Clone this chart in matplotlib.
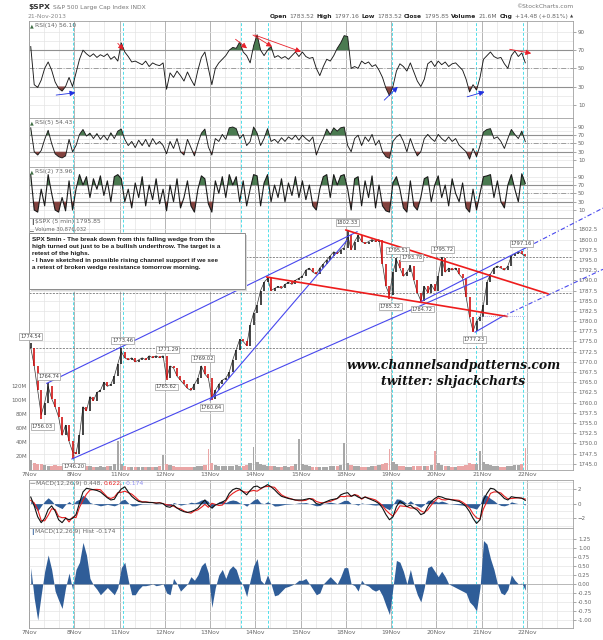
import numpy as np
import matplotlib
matplotlib.use("Agg")
import matplotlib.pyplot as plt
from matplotlib.patches import Rectangle

plt.rcParams['font.family'] = ['DejaVu Sans']

# ---------------- data (30-minute steps, 13 per session) ----------------
days = ['7Nov', '8Nov', '11Nov', '12Nov', '13Nov', '14Nov', '15Nov',
        '18Nov', '19Nov', '20Nov', '21Nov', '22Nov']
PER_DAY = 13

close = [
    1773.5, 1769.0, 1763.0, 1757.0, 1760.0, 1764.0, 1761.0, 1759.0, 1756.5, 1752.0, 1754.5, 1750.5, 1748.0,
    1747.5, 1752.0, 1759.0, 1758.0, 1761.5, 1760.5, 1762.5, 1763.0, 1765.0, 1764.0, 1764.5, 1766.5, 1769.5,
    1772.5, 1771.0, 1770.5, 1771.0, 1770.0, 1770.5, 1771.0, 1770.5, 1771.5, 1771.0, 1771.5, 1771.0, 1771.5,
    1766.0, 1769.0, 1768.5, 1766.5, 1765.5, 1764.5, 1763.5, 1763.0, 1764.5, 1766.0, 1769.0, 1767.0, 1766.0,
    1761.0, 1763.0, 1764.5, 1765.5, 1766.0, 1767.5, 1770.5, 1773.0, 1775.5, 1775.0, 1774.0, 1779.0, 1782.0,
    1784.0, 1787.5, 1789.5, 1790.5, 1787.5, 1788.0, 1788.5, 1788.0, 1789.0, 1789.5, 1789.0, 1790.0, 1790.5,
    1791.0, 1792.5, 1793.0, 1792.0, 1791.5, 1793.0, 1794.0, 1795.0, 1796.0, 1797.0, 1796.5, 1797.5, 1798.0,
    1801.0, 1797.5, 1799.5, 1801.0, 1799.5, 1799.0, 1799.5, 1800.0, 1799.5, 1800.0, 1794.0, 1788.5, 1786.5,
    1792.0, 1795.0, 1793.0, 1791.0, 1792.0, 1793.5, 1790.0, 1787.0, 1785.0, 1788.5, 1787.0, 1789.0, 1787.5,
    1791.0, 1795.5, 1792.0, 1793.0, 1792.5, 1793.0, 1791.5, 1790.5, 1786.0, 1781.0, 1777.5, 1780.0, 1781.0,
    1784.0, 1789.5, 1791.5, 1793.0, 1793.5, 1793.0, 1792.5, 1793.5, 1796.0, 1796.5, 1797.0, 1796.5, 1795.85,
]

volume_m = [
    14, 10, 9, 8, 7, 6, 6, 7, 6, 6, 7, 8, 10,
    10, 8, 7, 6, 6, 5, 5, 6, 5, 6, 6, 8, 42,
    9, 6, 5, 4, 4, 4, 4, 4, 4, 4, 5, 6, 22,
    9, 7, 6, 5, 5, 5, 5, 5, 5, 6, 6, 7, 30,
    10, 7, 6, 6, 6, 6, 6, 7, 6, 6, 7, 10, 33,
    12, 9, 7, 6, 6, 6, 5, 5, 6, 5, 6, 8, 45,
    9, 7, 6, 5, 5, 5, 5, 5, 6, 6, 6, 7, 39,
    10, 7, 6, 6, 5, 5, 5, 6, 6, 7, 9, 10, 30,
    12, 8, 6, 6, 5, 5, 6, 6, 6, 6, 6, 7, 27,
    10, 7, 6, 6, 5, 5, 6, 6, 7, 10, 9, 8, 27,
    11, 8, 7, 6, 6, 5, 5, 6, 6, 7, 7, 9, 32,
]

rsi14 = [
    74, 32, 29, 37, 50, 57, 48, 35, 28, 25, 30, 40, 30,
    45, 60, 70, 66, 63, 66, 62, 65, 63, 66, 60, 63, 58,
    78, 68, 63, 57, 58, 56, 54, 58, 52, 56, 54, 53, 56,
    27, 45, 40, 47, 42, 36, 46, 38, 31, 48, 62, 68, 50,
    32, 50, 56, 60, 64, 70, 73, 72, 79, 68, 64, 56, 75,
    87, 70, 64, 70, 74, 62, 64, 61, 63, 60, 64, 68, 63,
    68, 63, 61, 62, 50, 42, 52, 60, 58, 64, 72, 78, 86,
    85, 50, 52, 50, 58, 55, 57, 52, 54, 48, 40, 28, 20,
    30, 47, 55, 52, 47, 56, 46, 36, 30, 38, 55, 58, 52,
    58, 54, 57, 52, 55, 56, 52, 48, 38, 24, 32, 26, 40,
    60, 64, 68, 63, 61, 62, 55, 50, 64, 69, 63, 67, 56.1,
]

rsi5 = [
    88, 30, 22, 33, 60, 82, 50, 25, 18, 15, 20, 60, 30,
    45, 72, 84, 68, 75, 62, 74, 60, 70, 58, 76, 62, 80,
    85, 60, 45, 55, 40, 58, 45, 60, 42, 62, 48, 55, 45,
    25, 55, 38, 62, 30, 22, 60, 40, 20, 50, 75, 85, 42,
    22, 62, 55, 72, 60, 88, 90, 86, 62, 72, 45, 55, 90,
    75, 45, 62, 86, 55, 60, 52, 64, 55, 66, 60, 70, 58,
    70, 62, 55, 66, 22, 45, 62, 85, 72, 88, 80, 88, 90,
    45, 30, 62, 70, 45, 66, 55, 72, 46, 58, 30, 18, 14,
    55, 66, 72, 55, 30, 62, 38, 20, 30, 62, 72, 62, 55,
    72, 62, 55, 66, 55, 62, 46, 38, 30, 12, 38, 18, 45,
    78, 84, 86, 62, 66, 55, 38, 62, 84, 72, 62, 80, 54.43,
]

rsi2 = [
    95, 10, 5, 60, 20, 95, 50, 10, 5, 40, 8, 80, 10,
    60, 95, 70, 90, 40, 85, 60, 92, 45, 80, 30, 90, 95,
    85, 30, 60, 15, 75, 40, 90, 20, 70, 35, 85, 25, 60,
    8, 70, 30, 85, 15, 40, 80, 20, 5, 60, 92, 85, 25,
    5, 80, 50, 90, 40, 95, 70, 90, 30, 80, 20, 60, 95,
    92, 20, 75, 95, 30, 70, 40, 85, 30, 75, 45, 90, 40,
    80, 35, 70, 20, 10, 60, 90, 95, 40, 95, 70, 92, 95,
    60, 10, 85, 90, 20, 80, 40, 92, 15, 70, 20, 8, 5,
    75, 90, 60, 15, 5, 80, 20, 10, 40, 85, 90, 30, 70,
    92, 40, 70, 20, 85, 50, 30, 75, 15, 5, 60, 10, 50,
    90, 92, 95, 40, 80, 30, 15, 70, 95, 60, 30, 97, 73.96,
]

macd = [
    0.9, -0.3, -1.8, -2.6, -2.0, -0.8, -0.3, -1.0, -2.2, -2.6, -2.0, -2.2, -2.0,
    -1.5, 0.1, 1.6, 2.1, 2.0, 1.9, 1.8, 1.6, 1.2, 0.8, 0.5, 0.6, 1.4,
    2.0, 2.3, 1.6, 1.0, 0.6, 0.3, 0.2, 0.2, 0.15, 0.15, 0.05, 0.1, 0.0,
    -0.4, -0.5, -0.2, -0.6, -0.9, -1.1, -1.2, -1.1, -0.9, -0.6, 0.0, 0.5, -0.2,
    -0.6, -0.2, 0.0, 0.2, 0.5, 1.4, 1.9, 2.1, 2.0, 1.6, 1.2, 1.8, 2.3,
    2.4, 2.1, 2.3, 2.6, 2.3, 1.9, 1.4, 1.0, 0.85, 0.7, 0.6, 0.5, 0.5,
    0.5, 0.6, 0.7, 0.5, 0.0, -0.1, 0.1, 0.3, 0.5, 0.6, 0.7, 1.2, 1.4,
    1.5, 1.0, 1.2, 0.9, 0.7, 0.9, 0.7, 0.5, 0.3, 0.0, -0.6, -1.5, -2.2,
    -1.8, -0.4, 0.3, 0.0, -0.4, -0.2, -0.6, -0.9, -1.5, -1.3, -0.4, 0.3, 0.7,
    1.0, 0.9, 0.7, 0.6, 0.5, 0.4, 0.3, 0.0, -0.4, -1.1, -2.0, -2.7, -2.2,
    0.5, 1.4, 2.1, 2.0, 1.6, 1.2, 0.7, 0.5, 0.95, 0.85, 0.8, 0.75, 0.448,
]

macd_hist = [
    0.45, -0.4, -1.0, -0.3, 0.35, 0.8, 0.4, -0.2, -0.45, -0.68, -0.1, 0.3, -0.15,
    0.4, 0.6, 1.15, 0.8, 0.15, -0.03, -0.15, -0.3, -0.2, -0.1, -0.2, -0.3, -0.1,
    0.45, 0.6, 0.1, -0.3, -0.3, -0.15, -0.05, -0.05, -0.03, 0.0, -0.05, -0.03, 0.0,
    -0.25, -0.3, 0.15, 0.0, -0.2, -0.1, 0.0, 0.2, 0.1, 0.25, 0.5, 0.6, 0.3,
    -0.65, -0.1, 0.25, 0.4, 0.15, 0.4, 0.5, 0.4, 0.1, -0.05, -0.35, 0.1, 0.5,
    0.7, 0.1, 0.0, 0.25, 0.0, -0.33, -0.3, -0.2, -0.1, -0.07, -0.03, 0.02, 0.1,
    0.1, 0.15, 0.0, -0.15, -0.3, -0.25, 0.0, 0.1, 0.2, 0.1, 0.0, 0.2, 0.45,
    0.45, 0.0, -0.05, -0.2, 0.1, -0.02, -0.06, -0.15, -0.2, -0.15, -0.33, -0.6, -0.85,
    -0.1, 0.65, 0.6, 0.35, 0.0, 0.4, 0.0, -0.3, -0.5, -0.1, 0.45, 0.5, 0.35,
    0.2, 0.35, 0.2, 0.0, -0.05, -0.1, -0.15, -0.2, -0.25, -0.5, -0.6, -0.75, -0.1,
    1.2, 1.1, 0.7, 0.4, 0.0, -0.25, -0.3, -0.15, 0.25, 0.1, 0.0, 0.02, -0.174,
]

# price annotations: (step position, value, +1 above / -1 below)
price_labels = [
    (0.0, 1774.54, 1), (5.1, 1764.74, 1), (3.3, 1756.03, -1), (12.3, 1746.20, -1),
    (26.4, 1773.46, 1), (39.3, 1771.29, 1), (38.9, 1765.62, -1), (49.4, 1769.02, 1),
    (51.8, 1760.64, -1), (90.9, 1802.33, 1), (105.3, 1795.51, 1), (109.4, 1793.78, 1),
    (118.3, 1795.72, 1), (103.2, 1785.32, -1), (112.4, 1784.72, -1), (127.4, 1777.23, -1),
    (140.9, 1797.16, 1),
]
h_levels = [1795.6, 1786.9, 1773.5]
blue_solid = [((5.1, 1764.74), (94.2, 1801.9)),
              ((12.3, 1746.2), (132.5, 1791.3)),
              ((52.0, 1760.64), (91.3, 1799.8)),
              ((112.3, 1784.66), (142.5, 1797.9)),
              ((128.1, 1777.3), (135.6, 1781.0))]
blue_dashed = [((142.5, 1797.9), (164.8, 1807.7)),
               ((135.6, 1781.0), (164.8, 1792.7))]
red_lines = [((91.0, 1802.33), (149.0, 1786.7)),
             ((68.3, 1790.8), (137.2, 1781.15))]
dotted_level = ((129.0, 1781.15), (142.5, 1781.15))
rsi_red_arrows = [((25.5, 77.5), (27.2, 70.2)), ((59.3, 82.0), (62.6, 72.0)),
                  ((64.3, 86.7), (69.8, 73.8)), ((64.8, 86.7), (78.1, 68.3)),
                  ((138.0, 71.0), (144.2, 66.5))]
rsi_blue_arrows = [((7.8, 20.6), (13.3, 23.2)), ((102.0, 15.0), (105.9, 29.7)),
                   ((125.8, 18.7), (130.8, 24.2))]
marker_lines = [12.6, 27.0, 60.8, 68.7, 104.3, 128.4, 141.7]

# ---------------- layout ----------------
W, H = 603, 640
fig = plt.figure(figsize=(W / 100, H / 100), dpi=100)
LEFT, RIGHT = 29, 573
XMIN, XMAX = 0, 156.2
n = len(close)
x = np.arange(n) + 0.5
day_pos = np.arange(len(days)) * PER_DAY
GRAY_T = '#666666'
FS = 4.3
renderer = fig.canvas.get_renderer()


def ax_at(top, bottom, z=1):
    a = fig.add_axes([LEFT / W, 1 - bottom / H, (RIGHT - LEFT) / W, (bottom - top) / H], zorder=z)
    a.set_xlim(XMIN, XMAX)
    for s in a.spines.values():
        s.set_color('#a0a0a0')
        s.set_linewidth(0.6)
    a.yaxis.tick_right()
    a.tick_params(axis='y', labelsize=4, colors=GRAY_T, length=2, width=0.4, pad=1.5)
    a.tick_params(axis='x', length=0, labelbottom=False)
    a.set_xticks([])
    return a


def vgrid(a):
    for d in day_pos:
        for k in (1, 2):
            a.axvline(d + k * PER_DAY / 3, color='#e4e4e4', lw=0.5, zorder=0)
        a.axvline(d, color='#b4b4b4', lw=0.7, zorder=0)
    for m in marker_lines:
        a.axvline(m, color='#4fdfea', lw=0.7, ls=(0, (3, 2)), zorder=0.5)


def ftext(xp, yp, s, **kw):
    kw.setdefault('va', 'center')
    return fig.text(xp / W, 1 - yp / H, s, **kw)


def seq_text(x0, yp, pieces, gap=2.0, right=None):
    arts = [ftext(0, yp, s, ha='left', **kw) for s, kw in pieces]
    widths = [t.get_window_extent(renderer=renderer).width for t in arts]
    total = sum(widths) + gap * (len(arts) - 1)
    xs = (right - total) if right is not None else x0
    for t, wdt in zip(arts, widths):
        t.set_x(xs / W)
        xs += wdt + gap
    return arts


def rsi_panel(top, bottom, vals, ylim, name, lw=0.65):
    a = ax_at(top, bottom)
    a.set_ylim(*ylim)
    vgrid(a)
    for lv in range(10, 100, 10):
        a.axhline(lv, color='#e4e4e4', lw=0.5, zorder=0)
    a.axhline(70, color='#909090', lw=0.8, zorder=0.6)
    a.axhline(30, color='#909090', lw=0.8, zorder=0.6)
    a.axhline(50, color='#909090', lw=0.6, ls=(0, (6, 2, 1, 2)), zorder=0.6)
    v = np.array(vals, dtype=float)
    a.fill_between(x, v, 70, where=v > 70, interpolate=True, color='#4a7a50', lw=0, zorder=1)
    a.fill_between(x, v, 30, where=v < 30, interpolate=True, color='#84433f', lw=0, zorder=1)
    a.plot(x, v, color='#1a1a1a', lw=lw, zorder=2)
    a.set_yticks([10, 30, 50, 70, 90])
    ftext(30, top + 4.5, '\u25b2', fontsize=3.5, color='#3f6e44')
    ftext(35, top + 4.5, name, fontsize=FS, color=GRAY_T)
    return a


# RSI panels
ax14 = rsi_panel(21, 118.3, rsi14, (-4.97, 102.1), 'RSI(14) 56.10')
ax5 = rsi_panel(118.3, 167, rsi5, (-7.0, 111.1), 'RSI(5) 54.43')
ax2 = rsi_panel(167, 218.3, rsi2, (-9.9, 113.3), 'RSI(2) 73.96', lw=0.8)

for (s, e) in rsi_red_arrows:
    ax14.annotate('', xy=e, xytext=s, arrowprops=dict(arrowstyle='-|>', color='#e8202a', lw=0.6,
                                                         mutation_scale=8, shrinkA=0, shrinkB=0))
for (s, e) in rsi_blue_arrows:
    ax14.annotate('', xy=e, xytext=s, arrowprops=dict(arrowstyle='-|>', color='#2030e0', lw=0.6,
                                                         mutation_scale=8, shrinkA=0, shrinkB=0))

# price + volume panel
axv = ax_at(218.3, 470, z=1)
axv.set_ylim(0, 360.7)
vgrid(axv)
axp = ax_at(218.3, 470, z=2)
axp.patch.set_alpha(0)
axp.set_ylim(1743.5, 1805.2)
pt = np.arange(1745.0, 1803.0, 2.5)
axp.set_yticks(pt)
axp.set_yticklabels([f'{t:.1f}' for t in pt])
for t in pt:
    axv.axhline((t - 1743.5) / (1805.2 - 1743.5) * 360.7, color='#e4e4e4', lw=0.5, zorder=0)

opens = [close[0]] + close[:-1]
up = np.array(close) >= np.array(opens)
vol = np.array(volume_m, dtype=float)
vcol = np.where(up, '#a8a8a8', '#eaa6a6')
vwidth = np.where(vol > 15, 0.45, 0.95)
axv.bar(x, vol, width=vwidth, color=vcol, lw=0, zorder=1)
axv.yaxis.tick_left()
axv.set_yticks([20, 40, 60, 80, 100, 120])
axv.set_yticklabels(['20M', '40M', '60M', '80M', '100M', '120M'])
axv.tick_params(axis='y', labelsize=4, colors=GRAY_T, length=0, pad=1.5)
for s in axv.spines.values():
    s.set_visible(False)

hi = np.maximum(opens, close).astype(float)
lo = np.minimum(opens, close).astype(float)
for (p, v, side) in price_labels:
    k = int(round(p))
    if side > 0:
        hi[k] = max(hi[k], v)
    else:
        lo[k] = min(lo[k], v)
ccol = np.where(up, '#111111', '#d00000')
axp.plot(x, close, color='#333333', lw=0.5, zorder=3)
axp.vlines(x, lo, hi, colors=ccol, lw=1.1, zorder=3)

for lv in h_levels:
    axp.axhline(lv, color='#777777', lw=0.6, ls=(0, (2.5, 1.5)), zorder=2)
for (s, e) in blue_solid:
    axp.plot([s[0], e[0]], [s[1], e[1]], color='#4747ee', lw=0.8, zorder=4)
for (s, e) in blue_dashed:
    axp.plot([s[0], e[0]], [s[1], e[1]], color='#4747ee', lw=0.8, ls=(0, (4, 2, 1, 2)),
             zorder=4, clip_on=False)
for (s, e) in red_lines:
    axp.plot([s[0], e[0]], [s[1], e[1]], color='#ee1c1c', lw=1.2, zorder=4)
axp.plot([dotted_level[0][0], dotted_level[1][0]], [dotted_level[0][1], dotted_level[1][1]],
         color='#9a9ad8', lw=0.6, ls=(0, (1, 1.5)), zorder=4)

for (p, v, side) in price_labels:
    axp.annotate(f'{v:.2f}', xy=(p + 0.5, v), xytext=(0, 5.2 * side), textcoords='offset points',
                 ha='center', va='center', fontsize=3.7, color='#444444', zorder=6,
                 annotation_clip=False,
                 bbox=dict(boxstyle='square,pad=0.18', fc='white', ec='#9a9a9a', lw=0.5))

axp.set_xticks(day_pos)
axp.set_xticklabels(days)
axp.tick_params(axis='x', labelbottom=True, labelsize=FS, colors=GRAY_T, length=0, pad=1.5)

ftext(30, 222, '\u2759', fontsize=4, color='#333333')
ftext(35, 222, '$SPX (5 min) 1795.85', fontsize=FS, color=GRAY_T)
ftext(30, 229.5, '\u2581', fontsize=3.5, color='#555555')
ftext(35, 229.5, 'Volume 30,876,032', fontsize=3.8, color=GRAY_T)

# comment box
fig.patches.append(Rectangle((30.5 / W, 1 - 290.5 / H), (245 - 29) / W, (289 - 233) / H,
                             transform=fig.transFigure, fc='#d8d8d8', ec='none', zorder=9))
fig.patches.append(Rectangle((29 / W, 1 - 289 / H), (245 - 29) / W, (289 - 233) / H,
                             transform=fig.transFigure, fc='white', ec='#8c8c8c', lw=0.7,
                             zorder=10))
note = ("SPX 5min - The break down from this falling wedge from the\n"
        "high turned out just to be a bullish underthrow. The target is a\n"
        "retest of the highs.\n"
        "- I have sketched in possible rising channel support if we see\n"
        "a retest of broken wedge resistance tomorrow morning.")
ftext(31.5, 236.5, note, va='top', ha='left', fontsize=4.6, fontweight='bold',
      family='Liberation Sans', color='#1a1a1a', linespacing=1.55, zorder=11)

# watermark
ftext(454, 366, 'www.channelsandpatterns.com', ha='center', fontsize=8.9, style='italic',
      fontweight='bold', family='DejaVu Serif', color='#111111', zorder=12)
ftext(453, 382, 'twitter: shjackcharts', ha='center', fontsize=8.9, style='italic',
      fontweight='bold', family='DejaVu Serif', color='#111111', zorder=12)

# MACD panel
axm = ax_at(480, 528.3)
axm.set_ylim(-3.37, 3.23)
vgrid(axm)
for lv in (-3, -2, -1, 0, 1, 2, 3):
    axm.axhline(lv, color='#e4e4e4', lw=0.5, zorder=0)
mv = np.array(macd)
hv = np.array(macd_hist)
sig = mv - hv
axm.fill_between(x, hv, 0, color='#2f5d98', lw=0, zorder=1)
axm.plot(x, sig, color='#e82020', lw=0.8, zorder=2)
axm.plot(x, mv, color='#111111', lw=0.8, zorder=3)
axm.set_yticks([-2, 0, 2])
ftext(30, 483.5, '\u2014', fontsize=4, color='#222222')
seq_text(35.5, 483.5, [('MACD(12,26,9) 0.448,', dict(fontsize=FS, color=GRAY_T)),
                       ('0.622,', dict(fontsize=FS, color='#e82020')),
                       ('-0.174', dict(fontsize=FS, color='#8a8af0'))], gap=2.0)

# Histogram panel
axh = ax_at(528.3, 628.3)
axh.set_ylim(-1.229, 1.539)
vgrid(axh)
ht = np.arange(-1.0, 1.26, 0.25)
for lv in ht:
    axh.axhline(lv, color='#e4e4e4', lw=0.5, zorder=0)
axh.axhline(0, color='#b0b0b0', lw=0.6, zorder=0.5)
axh.fill_between(x, hv, 0, color='#2f5d98', lw=0, zorder=1)
axh.set_yticks(ht)
axh.set_yticklabels([f'{t:.2f}' for t in ht])
axh.set_xticks(day_pos)
axh.set_xticklabels(days)
axh.tick_params(axis='x', labelbottom=True, labelsize=FS, colors=GRAY_T, length=0, pad=1.5)
ftext(30, 532, '\u2759', fontsize=4, color='#2f5d98')
ftext(35, 532, 'MACD(12,26,9) Hist -0.174', fontsize=FS, color=GRAY_T)

# header
seq_text(28, 7.5, [('$SPX', dict(fontsize=5.4, fontweight='bold', color='#333333')),
                   ('S&P 500 Large Cap Index INDX', dict(fontsize=FS, color='#777777'))], gap=3.0)
ftext(28, 16.5, '21-Nov-2013', fontsize=FS, color='#888888')
ftext(573, 7, '\u00a9StockCharts.com', ha='right', fontsize=FS, color='#777777')

pieces = []
for lab, val in [('Open', '1783.52'), ('High', '1797.16'), ('Low', '1783.52'),
                 ('Close', '1795.85'), ('Volume', '21.6M'), ('Chg', '+14.48 (+0.81%)')]:
    pieces.append((lab, dict(fontsize=FS, fontweight='bold', color='#222222')))
    pieces.append((val, dict(fontsize=FS, color='#666666')))
pieces.append(('\u25b2', dict(fontsize=3, color='#444444')))
seq_text(0, 16.5, pieces, gap=2.2, right=573)

fig.savefig('out.png', dpi=100, facecolor='white')
